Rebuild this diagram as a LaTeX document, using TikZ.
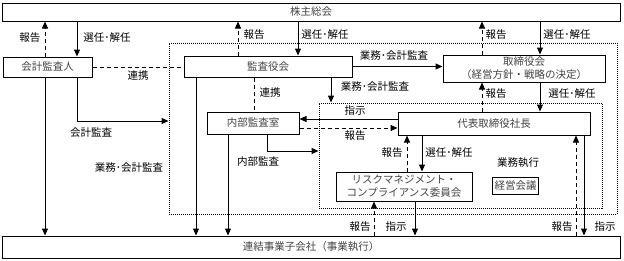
\documentclass[tikz,border=0pt]{standalone}
\usepackage{fontspec}
\setmainfont{Noto Sans CJK JP}
\usetikzlibrary{arrows.meta}

\begin{document}
\begin{tikzpicture}[x=1pt, y=-1pt,
    box/.style={draw=borderColour, line width=1pt, inner sep=0pt, text=textColour, align=center, font=\fontsize{10.5}{13}\selectfont},
    zone/.style={draw=borderColour, line width=0.9pt, dash pattern=on 1pt off 1pt, inner sep=0pt},
    lbl/.style={inner sep=0pt, font=\fontsize{10.5}{12}\selectfont},
    link/.style={line width=1pt, -{Triangle[length=7pt,width=6pt]}},
    rep/.style={link, dash pattern=on 4pt off 3pt},
    tie/.style={line width=1pt, dash pattern=on 4pt off 3pt}]
    % Define colours
    \definecolor{borderColour}{HTML}{000000}
    \definecolor{textColour}{HTML}{444444}

    % Fix the page size
    \fill[white] (0,0) rectangle (624,260);
    \useasboundingbox (0,0) rectangle (624,260);

    % Define columns and rows for the connectors
    \coordinate (c1) at (45,0);
    \coordinate (c2) at (77,0);
    \coordinate (c3) at (238,0);
    \coordinate (c4) at (298,0);
    \coordinate (c5) at (482,0);
    \coordinate (c6) at (540,0);
    \coordinate (c7) at (331,0);
    \coordinate (c8) at (254,0);
    \coordinate (c9) at (267,0);
    \coordinate (c10) at (196,0);
    \coordinate (c11) at (228,0);
    \coordinate (c12) at (407,0);
    \coordinate (c13) at (422,0);
    \coordinate (c14) at (374,0);
    \coordinate (c15) at (415,0);
    \coordinate (c16) at (576,0);
    \coordinate (c17) at (584,0);
    \coordinate (r1) at (0,119);
    \coordinate (r2) at (0,128);
    \coordinate (r3) at (0,151);
    \coordinate (r4) at (0,121);

    % Draw dotted zones
    \node[zone, minimum width=448pt, minimum height=171pt] (auditZone) at (393,128.5) {};
    \node[zone, minimum width=283pt, minimum height=105pt] (execZone) at (460.5,155.5) {};

    % Draw boxes
    \node[box, minimum width=618pt, minimum height=18pt] (kabu) at (311,12) {株主総会};
    \node[box, minimum width=89pt, minimum height=20pt] (kaikei) at (47.5,67) {会計監査人};
    \node[box, minimum width=168pt, minimum height=21pt] (kansa) at (268,66.5) {監査役会};
    \node[box, minimum width=162pt, minimum height=27pt] (board) at (524,68.5) {取締役会\\（経営方針・戦略の決定）};
    \node[box, minimum width=92pt, minimum height=22pt] (naibu) at (253,123) {内部監査室};
    \node[box, minimum width=192pt, minimum height=23pt] (ceo) at (494,123.5) {代表取締役社長};
    \node[box, minimum width=136pt, minimum height=29pt] (risk) at (404,186.5) {リスクマネジメント・\\コンプライアンス委員会};
    \node[box, minimum width=46pt, minimum height=17pt] (keiei) at (515.5,186) {経営会議};
    \node[box, minimum width=618pt, minimum height=22pt] (renketsu) at (311,247) {連結事業子会社（事業執行）};

    % Connectors at the top
    \draw[rep] (kaikei.north -| c1) -- (kabu.south -| c1);
    \draw[link] (kabu.south -| c2) -- (kaikei.north -| c2);
    \draw[rep] (kansa.north -| c3) -- (kabu.south -| c3);
    \draw[link] (kabu.south -| c4) -- (kansa.north -| c4);
    \draw[rep] (board.north -| c5) -- (kabu.south -| c5);
    \draw[link] (kabu.south -| c6) -- (board.north -| c6);

    % Connectors of the audit
    \draw[tie] (kaikei.east) -- (kaikei.east -| kansa.west);
    \draw[link] (kansa.east) -- (kansa.east -| board.west);
    \draw[link] (kansa.south -| c7) -- (execZone.north -| c7);
    \draw[tie] (kansa.south -| c8) -- (naibu.north -| c8);
    \draw[link] (kaikei.south -| c2) |- (r4 -| auditZone.west);
    \draw[link] (naibu.south -| c9) |- (r3 -| execZone.west);

    % Connectors of the execution
    \draw[rep] (ceo.north -| c5) -- (board.south -| c5);
    \draw[link] (board.south -| c6) -- (ceo.north -| c6);
    \draw[link] (ceo.west |- r1) -- (naibu.east |- r1);
    \draw[rep] (naibu.east |- r2) -- (ceo.west |- r2);
    \draw[rep] (risk.north -| c12) -- (ceo.south -| c12);
    \draw[link] (ceo.south -| c13) -- (risk.north -| c13);

    % Connectors to the subsidiaries
    \draw[link] (kaikei.south -| c1) -- (renketsu.north -| c1);
    \draw[link] (kansa.south -| c10) -- (renketsu.north -| c10);
    \draw[link] (naibu.south -| c11) -- (renketsu.north -| c11);
    \draw[rep] (renketsu.north -| c14) -- (risk.south -| c14);
    \draw[link] (risk.south -| c15) -- (renketsu.north -| c15);
    \draw[rep] (renketsu.north -| c16) -- (ceo.south -| c16);
    \draw[link] (ceo.south -| c17) -- (renketsu.north -| c17);

    % Labels
    \node[lbl] (l1) at (30,38) {報告};
    \node[lbl] (l2) at (107,38) {選任･解任};
    \node[lbl] (l3) at (138,76) {連携};
    \node[lbl] (l4) at (254,35) {報告};
    \node[lbl] (l5) at (325,35) {選任･解任};
    \node[lbl] (l6) at (496,35) {報告};
    \node[lbl] (l7) at (567,35) {選任･解任};
    \node[lbl] (l8) at (394,56) {業務･会計監査};
    \node[lbl] (l9) at (375,87) {業務･会計監査};
    \node[lbl] (l10) at (270,93) {連携};
    \node[lbl] (l11) at (496,94) {報告};
    \node[lbl] (l12) at (572,94) {選任･解任};
    \node[lbl] (l13) at (355,111) {指示};
    \node[lbl] (l14) at (355,136) {報告};
    \node[lbl] (l15) at (91,133) {会計監査};
    \node[lbl] (l16) at (258,162) {内部監査};
    \node[lbl] (l17) at (129,168) {業務･会計監査};
    \node[lbl] (l18) at (392,153) {報告};
    \node[lbl] (l19) at (449,153) {選任･解任};
    \node[lbl] (l20) at (518,163) {業務執行};
    \node[lbl] (l21) at (360,227) {報告};
    \node[lbl] (l22) at (396,227) {指示};
    \node[lbl] (l23) at (562,227) {報告};
    \node[lbl] (l24) at (605,227) {指示};

\end{tikzpicture}
\end{document}
